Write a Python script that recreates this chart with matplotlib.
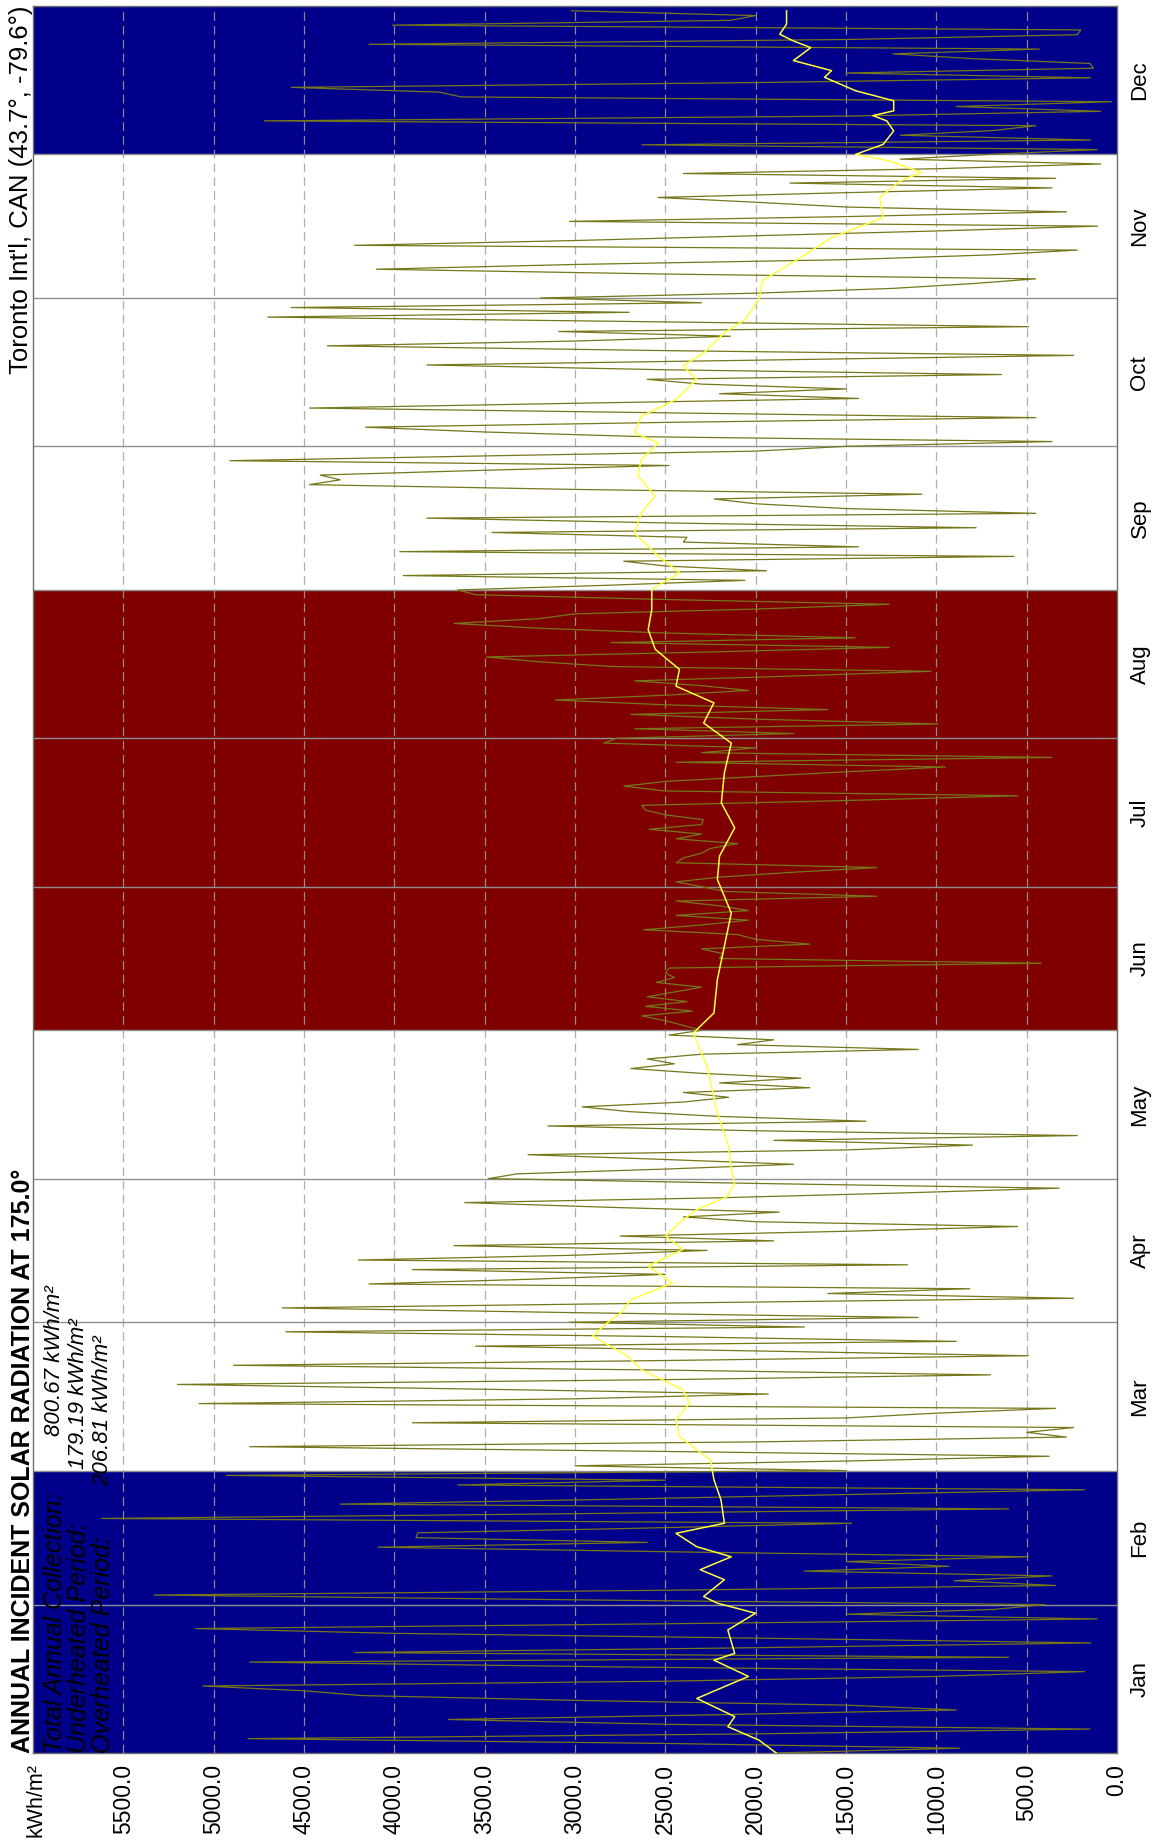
import matplotlib
matplotlib.use("Agg")
import matplotlib.pyplot as plt
import numpy as np

plt.rcParams['font.family'] = ['Liberation Sans', 'DejaVu Sans']

# ---------------- data ----------------
months = ["Jan", "Feb", "Mar", "Apr", "May", "Jun", "Jul", "Aug", "Sep", "Oct", "Nov", "Dec"]
month_days = [31, 28, 31, 30, 31, 30, 31, 31, 30, 31, 30, 31]

jan = [1900, 870, 2500, 4810, 2000, 150, 2500, 3700, 2200, 890, 1500, 3000, 4180, 4500, 5060, 2500,
       1000, 180, 2800, 4800, 600, 4220, 2000, 145, 2000, 4000, 5100, 2500, 110, 1500, 680]
feb = [400, 3000, 5330, 2500, 340, 900, 360, 1730, 930, 1500, 490, 2400, 4090, 2600, 3880, 3870,
       2600, 1470, 5620, 3000, 600, 4300, 2800, 1500, 180, 3650, 2500, 4930]
mar = [1500, 3000, 1500, 375, 2500, 4800, 2000, 280, 500, 240, 3900, 1500, 1000, 340, 5080, 3000,
       1930, 3500, 5200, 2500, 700, 2500, 4890, 2500, 490, 2000, 3550, 890, 2500, 4600, 1730]
apr = [3030, 1100, 3000, 4620, 2500, 240, 1600, 815, 4140, 3230, 2500, 3900, 1160, 4200, 3000,
       2270, 3670, 1900, 2750, 1500, 550, 2000, 2400, 1870, 2800, 3610, 2200, 1200, 320, 2000]
may = [3480, 3320, 2500, 1790, 2500, 3260, 1500, 800, 1900, 220, 2000, 3150, 1390, 2200, 2700,
       2960, 2400, 2150, 2400, 1700, 2200, 1750, 2300, 2690, 2450, 2600, 2300, 1100, 2100, 1900, 2480]
jun = [2300, 2400, 2500, 2630, 2350, 2610, 2380, 2600, 2450, 2300, 2550, 2450, 2500, 2480, 420,
       2200, 2180, 2300, 1700, 2000, 2100, 2620, 2300, 2040, 2440, 2040, 2200, 2440, 1330, 2170]
jul = [2300, 2440, 2200, 1800, 1330, 2440, 2400, 2300, 2250, 2100, 2440, 2300, 2590, 2300, 2290,
       2500, 2610, 2630, 1500, 550, 2500, 2730, 2500, 2000, 1500, 950, 2440, 360, 2300, 2000, 2840]
aug = [2770, 1790, 2670, 990, 2000, 2690, 1600, 2500, 3110, 2500, 2040, 2300, 2670, 1800, 1030,
       2800, 3200, 3490, 2300, 1260, 2800, 1450, 2500, 3200, 3670, 3200, 3000, 2000, 1260, 2500, 3550]
sep = [3650, 2800, 2060, 3950, 1940, 2500, 2730, 570, 3970, 1430, 2400, 2380, 3460, 780, 2500,
       3820, 450, 1500, 2000, 2230, 1080, 3000, 4470, 4300, 4410, 3500, 2480, 4910, 3500, 2000]
oct_ = [1500, 360, 2600, 3500, 4160, 2500, 450, 2500, 4470, 3000, 1430, 2200, 1500, 2300, 2600,
        640, 2500, 3820, 2000, 240, 2500, 4370, 3000, 2140, 3090, 490, 2500, 4700, 2700, 4570, 2300]
nov = [3190, 2000, 1240, 800, 450, 2500, 4100, 3000, 1500, 700, 220, 4220, 3000, 2000, 1000,
       107, 3030, 1500, 280, 1500, 2000, 2540, 1500, 360, 1810, 340, 2400, 1000, 90, 1200]
dec = [700, 110, 2630, 145, 1200, 680, 450, 4720, 1500, 90, 890, 30, 3630, 3750, 4570, 2000,
       145, 1500, 130, 150, 800, 1240, 430, 4140, 1500, 220, 200, 4010, 2140, 2000, 3020]

avg_days = [0, 2.7, 5.5, 7.6, 11.4, 16.0, 19.4, 20.8, 25.7, 29.2, 31.3, 32.7, 36.2, 38.3, 41.0, 43.1,
            45.9, 48.0, 52.9, 57.1, 61.2, 66.1, 69.6, 73.1, 75.9, 80.1, 82.9, 87.1, 89.8, 91.9, 94.7,
            98.2, 101.7, 105.2, 108.0, 110.8, 113.5, 116.3, 119.1, 121.9, 126.8, 133.7, 143.5, 150.4,
            154.6, 161.6, 168.6, 175.5, 182.5, 187.4, 193.3, 198.5, 204.8, 211.0, 215.2, 219.4, 222.9,
            226.4, 230.6, 234.7, 238.9, 243.1, 246.6, 250.0, 254.9, 259.1, 262.6, 266.8, 270.3, 273.7,
            275.8, 279.3, 282.8, 287.0, 289.8, 292.5, 296.7, 299.5, 303.7, 307.6, 312.4, 316.6, 320.8,
            325.0, 328.5, 330.2, 332.6, 334.0, 336.1, 338.9, 341.0, 342.1, 343.1, 345.2, 347.3, 350.1,
            351.5, 353.6, 356.3, 357.7, 359.1, 361.2, 364.0]
avg_vals = [1886, 1982, 2154, 2116, 2326, 2040, 2231, 2116, 2154, 2001, 2212, 2288, 2173, 2307, 2135, 2326,
            2441, 2173, 2192, 2231, 2250, 2422, 2441, 2365, 2403, 2633, 2709, 2901, 2824, 2748, 2690,
            2460, 2595, 2403, 2499, 2422, 2326, 2154, 2116, 2135, 2150, 2212, 2269, 2346,
            2231, 2212, 2173, 2135, 2212, 2200, 2116, 2190, 2173, 2135, 2288, 2231, 2441,
            2422, 2556, 2595, 2575, 2575, 2422, 2537, 2671, 2633, 2556, 2652, 2633, 2537,
            2671, 2633, 2441, 2326, 2403, 2288, 2173, 2059, 1982, 1963, 1753, 1580, 1294,
            1313, 1198, 1083, 1255, 1447, 1294, 1236, 1274, 1351, 1236, 1236, 1447, 1619,
            1580, 1791, 1695, 1791, 1867, 1829, 1829]

value_ticks = [0, 500, 1000, 1500, 2000, 2500, 3000, 3500, 4000, 4500, 5000, 5500]
underheated_months = [0, 1, 11]
overheated_months = [5, 6, 7]

info_labels = ["Total Annual Collection:", "Underheated Period:", "Overheated Period:"]
info_values = ["800.67 kWh/m\u00b2", "179.19 kWh/m\u00b2", "206.81 kWh/m\u00b2"]

# ---------------- figure ----------------
W, H = 1154, 1843
fig = plt.figure(figsize=(W / 100, H / 100), dpi=100)
ax_l, ax_r, ax_t, ax_b = 33, 1117, 6, 1753
ax = fig.add_axes([ax_l / W, 1 - ax_b / H, (ax_r - ax_l) / W, (ax_b - ax_t) / H])

daily = jan + feb + mar + apr + may + jun + jul + aug + sep + oct_ + nov + dec
days = np.arange(len(daily))
edges = np.concatenate([[0], np.cumsum(month_days)])

BLUE = "#00008b"
RED = "#800000"
for m in underheated_months:
    ax.axhspan(edges[m], edges[m + 1], color=BLUE, lw=0, zorder=0)
for m in overheated_months:
    ax.axhspan(edges[m], edges[m + 1], color=RED, lw=0, zorder=0)

for v in value_ticks[1:]:
    ax.axvline(v, color="#a0a0a0", lw=0.9, ls=(0, (7, 4)), alpha=0.85, zorder=1)
for e in edges[1:-1]:
    ax.axhline(e, color="#909090", lw=1.0, zorder=1)

ax.plot(daily, days, color="#76761a", lw=0.9, zorder=2)
ax.plot(avg_vals, avg_days, color="#ffff40", lw=1.1, zorder=3)

ax.set_xlim(6000, 0)
ax.set_ylim(0, 365)

ax.set_xticks(value_ticks)
ax.set_xticklabels([f"{v:.1f}" for v in value_ticks], rotation=90, fontsize=16.5)
ax.tick_params(axis="x", length=0, pad=8)

mids = [(edges[i] + edges[i + 1]) / 2 for i in range(12)]
ax.yaxis.tick_right()
ax.set_yticks(mids)
ax.set_yticklabels(months, rotation=90, va="center", fontsize=16)
ax.tick_params(axis="y", length=0, pad=9)

for s in ax.spines.values():
    s.set_color("#707070")
    s.set_linewidth(1.0)

# ---------------- texts ----------------
fig.text(23 / W, 1 - ax_b / H, "ANNUAL INCIDENT SOLAR RADIATION AT 175.0\u00b0", rotation=90,
         ha="center", va="bottom", fontsize=18, fontweight="bold")
fig.text(21 / W, 1 - 6 / H, "Toronto Int'l, CAN (43.7\u00b0, -79.6\u00b0)", rotation=90,
         ha="center", va="top", fontsize=18.5)
fig.text(36 / W, 1 - 1763 / H, "kWh/m\u00b2", rotation=90, ha="center", va="top", fontsize=15.5)

xs = [55, 79, 103]
value_ends = [1285, 1318, 1335]
for x, lab, val, ye in zip(xs, info_labels, info_values, value_ends):
    fig.text(x / W, 1 - ax_b / H, lab, rotation=90, ha="center", va="bottom",
             fontsize=18, style="italic", color="black")
    fig.text(x / W, 1 - ye / H, val, rotation=90, ha="center", va="top",
             fontsize=16, style="italic", color="black")

fig.savefig("out.png", dpi=100)
